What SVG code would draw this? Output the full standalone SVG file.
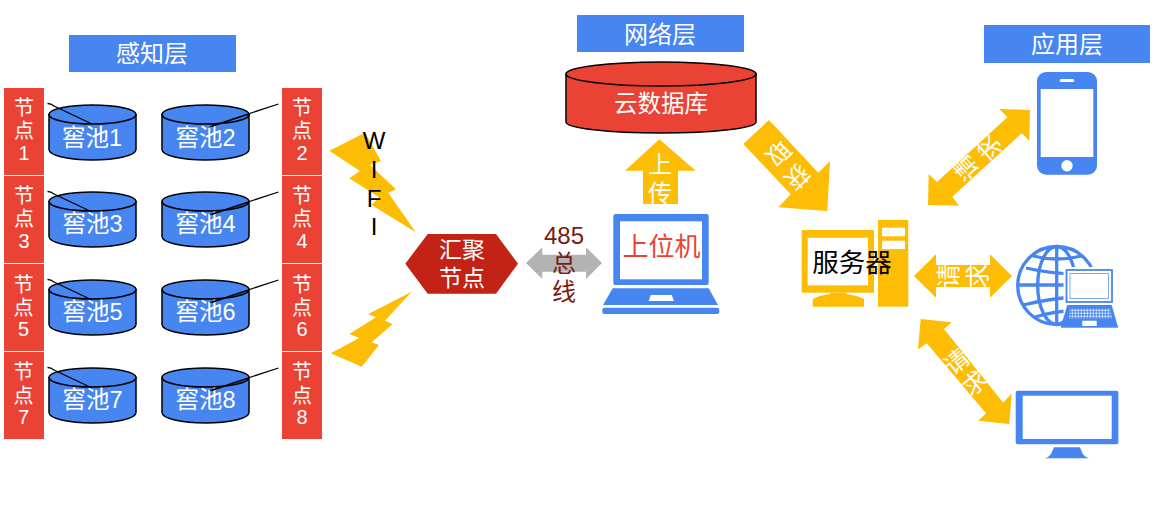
<svg xmlns="http://www.w3.org/2000/svg" width="1165" height="529" viewBox="0 0 1165 529">
<defs>
<style>
text{font-family:"Liberation Sans","Noto Sans CJK SC",sans-serif;text-anchor:middle;dominant-baseline:central}
.blue{fill:#4785f0}.red{fill:#ea4335}.yel{fill:#fdbd05}
.hd{fill:#fff;font-size:24px}
.w{fill:#fff;font-size:24px}
.nd{fill:#fff;font-size:20px}
.pool{fill:#fff;font-size:23.500px}
.cyl{stroke:#000;stroke-width:1.500}
.ln{stroke:#000;stroke-width:1.300;fill:none}
.gl{stroke:#4785f0;stroke-width:3.300;fill:none}
.bus{fill:#7a1a10;font-size:24px}
.wf{fill:#000;font-size:24px}
</style>
<g id="cylshape">
<path class="cyl" style="fill:#4785f0" d="M-43.500 0V35C-43.500 41 -24 45.500 0 45.500S43.500 41 43.500 35V0Z"/>
<ellipse class="cyl" style="fill:#4785f0" cx="0" cy="0" rx="43.500" ry="9.500"/>
</g>
<pattern id="keys" width="3" height="3" patternUnits="userSpaceOnUse"><rect width="3" height="3" fill="#4785f0"/><rect x="0.500" y="0.500" width="1.800" height="1.800" fill="#fff"/></pattern>
</defs>
<rect width="1165" height="529" fill="#fff"/>

<g id="layer-sense"><rect class="blue" x="69" y="35" width="167" height="37"/><text class="hd" x="152" y="53.500">感知层</text></g>
<g id="layer-net"><rect class="blue" x="577" y="15" width="167" height="37"/><text class="hd" x="660" y="34">网络层</text></g>
<g id="layer-app"><rect class="blue" x="984" y="25" width="166" height="38"/><text class="hd" x="1067" y="44">应用层</text></g>

<g id="node1"><rect class="red" x="4" y="88" width="40" height="87"/><text class="nd" x="24" y="108">节</text><text class="nd" x="24" y="131">点</text><text class="nd" x="24" y="153">1</text></g>
<g id="node2"><rect class="red" x="282" y="88" width="40" height="87"/><text class="nd" x="302" y="108">节</text><text class="nd" x="302" y="131">点</text><text class="nd" x="302" y="153">2</text></g>
<g id="node3"><rect class="red" x="4" y="176" width="40" height="87"/><text class="nd" x="24" y="196">节</text><text class="nd" x="24" y="219">点</text><text class="nd" x="24" y="241">3</text></g>
<g id="node4"><rect class="red" x="282" y="176" width="40" height="87"/><text class="nd" x="302" y="196">节</text><text class="nd" x="302" y="219">点</text><text class="nd" x="302" y="241">4</text></g>
<g id="node5"><rect class="red" x="4" y="264" width="40" height="87"/><text class="nd" x="23.500" y="285">节</text><text class="nd" x="23.500" y="308">点</text><text class="nd" x="23.500" y="329">5</text></g>
<g id="node6"><rect class="red" x="282" y="264" width="40" height="87"/><text class="nd" x="302" y="285">节</text><text class="nd" x="302" y="308">点</text><text class="nd" x="302" y="329">6</text></g>
<g id="node7"><rect class="red" x="4" y="352" width="40" height="87"/><text class="nd" x="23.500" y="372">节</text><text class="nd" x="23.500" y="396">点</text><text class="nd" x="23.500" y="417">7</text></g>
<g id="node8"><rect class="red" x="282" y="352" width="40" height="87"/><text class="nd" x="302" y="372">节</text><text class="nd" x="302" y="396">点</text><text class="nd" x="302" y="417">8</text></g>

<g id="pool1"><use href="#cylshape" x="92.500" y="114.500"/><text class="pool" x="92" y="138">窖池1</text></g>
<g id="pool2"><use href="#cylshape" x="205.500" y="114.500"/><text class="pool" x="205.500" y="138">窖池2</text></g>
<g id="pool3"><use href="#cylshape" x="92.500" y="201.500"/><text class="pool" x="92.500" y="224">窖池3</text></g>
<g id="pool4"><use href="#cylshape" x="205.500" y="201.500"/><text class="pool" x="205.500" y="224">窖池4</text></g>
<g id="pool5"><use href="#cylshape" x="92.500" y="289.500"/><text class="pool" x="92.500" y="312">窖池5</text></g>
<g id="pool6"><use href="#cylshape" x="205.500" y="289.500"/><text class="pool" x="205.500" y="312">窖池6</text></g>
<g id="pool7"><use href="#cylshape" x="92.500" y="377.500"/><text class="pool" x="92.500" y="400">窖池7</text></g>
<g id="pool8"><use href="#cylshape" x="205.500" y="377.500"/><text class="pool" x="205.500" y="400">窖池8</text></g>

<g id="connectors">
<path class="ln" d="M47.500 103.500Q51 103.500 54 106L92 124M278.500 104L210 126.500M248 114.500L212 126.500"/>
<path class="ln" d="M47.500 191.500Q51 191.500 54 194L92 212M278.500 192L210 214.500M248 202.500L212 214.500"/>
<path class="ln" d="M47.500 279.500Q51 279.500 54 282L92 300M278.500 280L210 302.500M248 290.500L212 302.500"/>
<path class="ln" d="M47.500 367.500Q51 367.500 54 370L92 388M278.500 368L210 390.500M248 378.500L212 390.500"/>
<polygon class="yel" points="329.300,150.700 365,132.700 381,161 370,165 396,189.300 388.300,192.700 415.700,232.300 371.700,205 379,197.300 349.300,178.300 360,171"/>
<polygon class="yel" points="411.700,291.700 368.300,314 376,317.300 349.300,334 359.300,338 330.700,353.300 361.700,366.700 379,345 371.700,342.300 392.700,324 385,320.700"/>
<polygon fill="#b3b3b3" points="526,263 542.300,247.300 542.300,254.700 586,254.700 586,247.300 602,263 586,279 586,271.700 542.300,271.700 542.300,279"/>
<polygon class="yel" points="659.300,139.300 695.700,170.700 678,170.700 678,204 643,204 643,170.700 625,170.700"/>
<polygon class="yel" points="769,120 818.300,172.700 830,161 827.300,211 778.300,207.300 790.700,194.300 743.300,144"/>
<polygon class="yel" points="1030,110 1029.300,140.700 1021.700,133.300 952.300,196.700 959,205.700 928,205 928.700,174 937,182 1007.300,117.300 999.300,109"/>
<polygon class="yel" points="914,276 936,254.300 936,265 990,265 990,254.300 1012,276 990,297.700 990,287 936,287 936,297.700"/>
<polygon class="yel" points="920.700,319 951.700,322.300 944,329 1003.300,402.700 1011.700,393.300 1009.300,424 978.300,420.700 986,413.300 926.700,343.300 918,349.300"/>
</g>

<g id="wifi-label"><text class="wf" x="374" y="140.500">W</text><text class="wf" x="374" y="169">I</text><text class="wf" x="374" y="198">F</text><text class="wf" x="374" y="226.500">I</text></g>

<g id="hub"><polygon points="405.300,263.700 427.700,234 496,234 518,263.700 496,293.700 427.700,293.700" fill="#c22316"/><text x="462" y="250" style="fill:#fff;font-size:23px">汇聚</text><text x="462" y="278" style="fill:#fff;font-size:23px">节点</text></g>

<g id="bus-label"><text class="bus" x="564" y="235">485</text><text class="bus" x="564" y="263">总</text><text class="bus" x="564" y="291.500">线</text></g>

<g id="arrow-labels">
<text class="w" x="660" y="164">上</text>
<text class="w" x="660" y="193">传</text>
<text class="w" transform="translate(796.700 176.700) rotate(135)">获</text>
<text class="w" transform="translate(778.300 153.300) rotate(135)">取</text>
<text class="w" transform="translate(966.700 168) rotate(228)">请</text>
<text class="w" transform="translate(990 148) rotate(228)">求</text>
<text class="w" transform="translate(948 276) rotate(-90)">请</text>
<text class="w" transform="translate(977 276) rotate(-90)">求</text>
<text class="w" transform="translate(956.700 361.700) rotate(-40)">请</text>
<text class="w" transform="translate(975 383) rotate(-40)">求</text>
</g>

<g id="cloud-db"><path class="red cyl" d="M566 74V122C566 128 608 133 661 133S756 128 756 122V74Z"/><ellipse class="red cyl" cx="661" cy="74" rx="95" ry="12"/><text x="661" y="104" style="fill:#fff;font-size:23.500px">云数据库</text></g>

<g id="host">
<rect class="blue" x="613.300" y="214" width="95.400" height="71" rx="2"/><rect x="620" y="221.300" width="82" height="58" fill="#fff"/>
<polygon class="blue" points="612.700,288.300 708.700,288.300 718,305 603,305"/>
<polygon fill="#fff" points="650.700,295 671.700,295 674,301 648.700,301"/>
<rect class="blue" x="602.300" y="307.700" width="117" height="6.300" rx="2"/>
<text x="661.500" y="247" style="fill:#ea4335;font-size:26px">上位机</text>
</g>

<g id="server">
<rect class="yel" x="801.700" y="230" width="72.300" height="62.700"/><rect x="807.700" y="237.700" width="60.300" height="47.600" fill="#fff"/>
<path class="yel" d="M830 292.700H846V294Q858 295.500 864 299V306.700H812.700V299Q818 295.500 830 294Z"/>
<rect class="yel" x="878" y="220" width="30.300" height="86.700"/><rect x="882" y="227.700" width="23" height="8.600" fill="#fff"/><rect x="882" y="240.700" width="23" height="8.300" fill="#fff"/>
<text x="852" y="262.700" style="fill:#000;font-size:26.500px">服务器</text>
</g>

<g id="phone"><rect class="blue" x="1037" y="72" width="60" height="102.700" rx="9"/><rect x="1040.700" y="89" width="52.600" height="68" fill="#fff"/><rect x="1059.700" y="79" width="14.600" height="3" rx="1.500" fill="#fff"/><circle cx="1067" cy="165.700" r="5.700" fill="#fff"/></g>

<g id="web">
<circle class="gl" cx="1056.700" cy="285.500" r="39"/>
<ellipse class="gl" cx="1056.700" cy="285.500" rx="19" ry="39"/>
<path class="gl" d="M1056.700 246.500V324.500M1026 268Q1056 275 1090 274M1018 285H1090M1023 305Q1056 297 1090 296M1033 256Q1056 262 1082 256M1035 317Q1056 311 1070 311"/>
<rect x="1063.500" y="267" width="56" height="62" fill="#fff"/>
<rect x="1066.500" y="270" width="45.500" height="32" fill="#fff" stroke="#4785f0" stroke-width="1.800"/>
<rect x="1070" y="273.500" width="38.500" height="25" fill="#fff" stroke="#7fa9f4" stroke-width="1"/>
<polygon class="blue" points="1067.300,305 1111.700,305 1117.700,326 1061,326"/>
<polygon fill="url(#keys)" points="1070,308.500 1110,308.500 1112,318.500 1069,318.500"/>
<rect x="1082.300" y="320.700" width="14.400" height="5.600" fill="#fff"/>
<rect class="blue" x="1061" y="326" width="57" height="1.700"/>
</g>

<g id="pc"><rect class="blue" x="1015.700" y="390.700" width="102.700" height="53.600" rx="2"/><rect x="1022.700" y="395.700" width="89" height="43.300" fill="#fff"/><path class="blue" d="M1054 447.300H1080L1082.700 454Q1085 457 1089 458.300H1045Q1049 457 1051 454Z"/></g>
</svg>
